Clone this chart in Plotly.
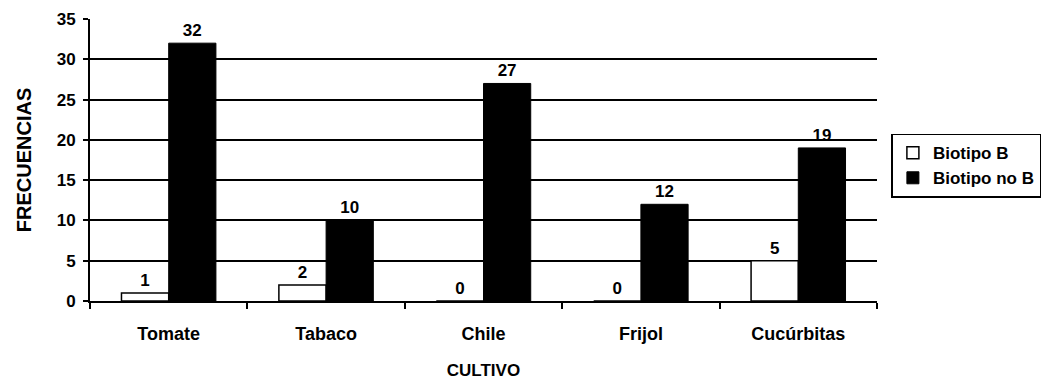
import plotly.graph_objects as go

cultivos = ["Tomate", "Tabaco", "Chile", "Frijol", "Cucúrbitas"]
biotipo_b = [1, 2, 0, 0, 5]
biotipo_no_b = [32, 10, 27, 12, 19]
y_ticks = [0, 5, 10, 15, 20, 25, 30, 35]

FONT = "Liberation Sans"


def bold(size):
    return dict(family=FONT, size=size, color="black", weight="bold")


fig = go.Figure()
fig.add_trace(go.Bar(
    name="Biotipo B", x=cultivos, y=biotipo_b,
    marker=dict(color="white", line=dict(color="black", width=1.5)),
    text=[str(v) for v in biotipo_b], textposition="outside",
    textfont=bold(17), cliponaxis=False,
))
fig.add_trace(go.Bar(
    name="Biotipo no B", x=cultivos, y=biotipo_no_b,
    marker=dict(color="black", line=dict(color="black", width=1)),
    text=[str(v) for v in biotipo_no_b], textposition="outside",
    textfont=bold(17), cliponaxis=False,
))

fig.update_layout(
    width=1052, height=385,
    margin=dict(l=90, r=174, t=19, b=84),
    paper_bgcolor="white", plot_bgcolor="white",
    barmode="group", bargap=0.4, bargroupgap=0.0,
    font=bold(16),
    legend=dict(
        x=1.017, y=0.48, xanchor="left", yanchor="middle",
        bordercolor="black", borderwidth=1.5, bgcolor="white",
        font=bold(17), itemwidth=30, tracegroupgap=2,
    ),
    showlegend=True,
)
fig.update_xaxes(
    automargin=False,
    showline=True, linecolor="black", linewidth=2,
    ticks="outside", tickson="boundaries", ticklen=6, tickcolor="black", tickwidth=2,
    tickfont=bold(18), ticklabelstandoff=15,
    title=dict(text="CULTIVO", font=bold(17), standoff=22),
    showgrid=False,
)
fig.update_yaxes(
    automargin=False,
    range=[0, 35], tickvals=y_ticks,
    showline=True, linecolor="black", linewidth=2,
    showgrid=True, gridcolor="black", gridwidth=2,
    ticks="outside", ticklen=5, tickcolor="black", tickwidth=2,
    tickfont=bold(17), ticklabelstandoff=4,
    title=dict(text="FRECUENCIAS", font=bold(20), standoff=20),
    zeroline=False,
)

fig.write_html("out.html")
